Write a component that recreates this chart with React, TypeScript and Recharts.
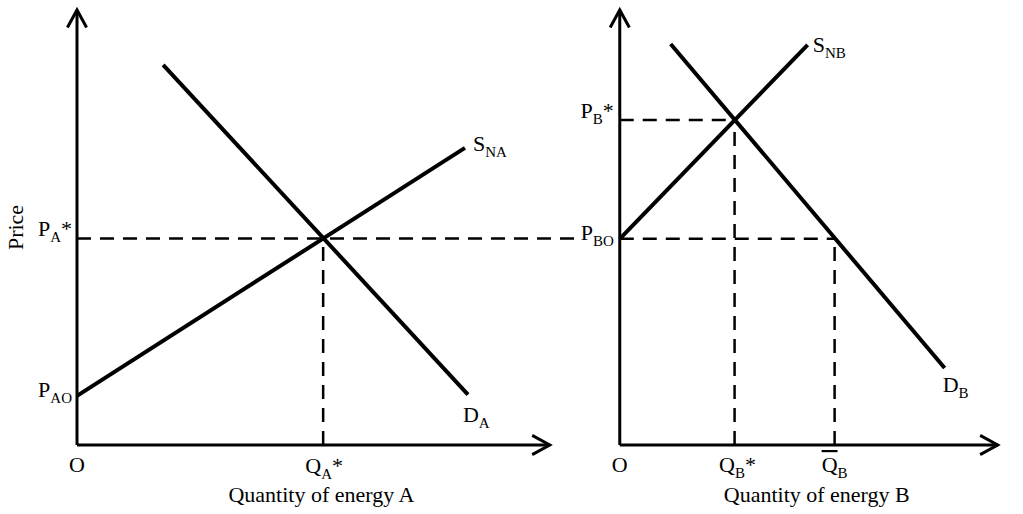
import React from "react";
import { LineChart, Line, XAxis, YAxis, ReferenceLine, ReferenceDot } from "recharts";

// two supply/demand panels drawn on one shared price/quantity plane
const PANEL_B_OFFSET = 12.48;

// energy A
const supplyA = [
  { q: 0, p: 1.13 },
  { q: 8.92, p: 6.83 },
];
const demandA = [
  { q: 1.98, p: 8.74 },
  { q: 8.99, p: 1.16 },
];
const equilibriumA = { q: 5.66, p: 4.75 };
const axisEndA = 10.87;

// energy B
const supplyB = [
  { q: 0, p: 4.74 },
  { q: 4.32, p: 9.2 },
];
const demandB = [
  { q: 1.17, p: 9.22 },
  { q: 7.47, p: 1.77 },
];
const equilibriumB = { q: 2.64, p: 7.47 };
const floorPriceB = 4.74;
const qBarB = 4.94;
const axisEndB = 8.69;

const priceTop = 10;
const dashEndA = 11.47;

const SERIF = "'Liberation Serif', 'Times New Roman', serif";
const INK = "#000";
const DASH = "14 9";

const shift = (pts: { q: number; p: number }[]) =>
  pts.map((d) => ({ q: d.q + PANEL_B_OFFSET, p: d.p }));

type Part = { t: string; sub?: boolean; bar?: boolean };

const MathText = ({
  x, y, parts, anchor = "start",
}: { x: number; y: number; parts: Part[]; anchor?: "start" | "middle" | "end" }) => {
  let level = 0;
  return (
    <text x={x} y={y} textAnchor={anchor} fontFamily={SERIF} fontSize={22} fill={INK}>
      {parts.map((part, i) => {
        const target = part.sub ? 6 : 0;
        const dy = target - level;
        level = target;
        return (
          <tspan
            key={i}
            dy={dy}
            fontSize={part.sub ? 15 : 22}
            style={part.bar ? { textDecoration: "overline" } : undefined}
          >
            {part.t}
          </tspan>
        );
      })}
    </text>
  );
};

const tag = (parts: Part[], dx: number, dy: number, anchor: "start" | "middle" | "end" = "start") => ({
  content: (props: any) => {
    const vb = props.viewBox || {};
    return <MathText x={(vb.x ?? 0) + dx} y={(vb.y ?? 0) + dy} parts={parts} anchor={anchor} />;
  },
});

const ArrowAxis = (props: any) => {
  const { x1, y1, x2, y2 } = props;
  const ang = Math.atan2(y2 - y1, x2 - x1);
  const len = 20;
  const spread = 0.5;
  const ax = x2 + len * Math.cos(ang + Math.PI - spread);
  const ay = y2 + len * Math.sin(ang + Math.PI - spread);
  const bx = x2 + len * Math.cos(ang + Math.PI + spread);
  const by = y2 + len * Math.sin(ang + Math.PI + spread);
  return (
    <g>
      <line x1={x1} y1={y1} x2={x2} y2={y2} stroke={INK} strokeWidth={3} />
      <polyline
        points={`${ax},${ay} ${x2},${y2} ${bx},${by}`}
        fill="none"
        stroke={INK}
        strokeWidth={3}
        strokeLinejoin="miter"
      />
    </g>
  );
};

const dashed = { stroke: INK, strokeWidth: 2.5, strokeDasharray: DASH, ifOverflow: "visible" as const };

export default function App() {
  const sB = shift(supplyB);
  const dB = shift(demandB);
  const oB = PANEL_B_OFFSET;

  return (
    <div style={{ position: "absolute", left: 0, top: 0, width: 1023, height: 514, background: "#fff" }}>
      <LineChart width={1023} height={514} margin={{ top: 10, right: 24, bottom: 69, left: 77 }}>
        <XAxis type="number" dataKey="q" domain={[0, 21.2]} hide allowDataOverflow />
        <YAxis type="number" domain={[0, priceTop]} hide allowDataOverflow />

        {/* panel A axes */}
        <ReferenceLine segment={[{ x: 0, y: 0 }, { x: 0, y: priceTop }]} shape={ArrowAxis} ifOverflow="visible" />
        <ReferenceLine segment={[{ x: 0, y: 0 }, { x: axisEndA, y: 0 }]} shape={ArrowAxis} ifOverflow="visible" />
        {/* panel B axes */}
        <ReferenceLine segment={[{ x: oB, y: 0 }, { x: oB, y: priceTop }]} shape={ArrowAxis} ifOverflow="visible" />
        <ReferenceLine segment={[{ x: oB, y: 0 }, { x: oB + axisEndB, y: 0 }]} shape={ArrowAxis} ifOverflow="visible" />

        {/* guide lines */}
        <ReferenceLine segment={[{ x: 0, y: equilibriumA.p }, { x: dashEndA, y: equilibriumA.p }]} {...dashed} />
        <ReferenceLine segment={[{ x: equilibriumA.q, y: 0 }, { x: equilibriumA.q, y: equilibriumA.p }]} {...dashed} />
        <ReferenceLine segment={[{ x: oB, y: equilibriumB.p }, { x: oB + equilibriumB.q, y: equilibriumB.p }]} {...dashed} />
        <ReferenceLine segment={[{ x: oB + equilibriumB.q, y: 0 }, { x: oB + equilibriumB.q, y: equilibriumB.p }]} {...dashed} />
        <ReferenceLine segment={[{ x: oB, y: floorPriceB }, { x: oB + qBarB, y: floorPriceB }]} {...dashed} />
        <ReferenceLine segment={[{ x: oB + qBarB, y: 0 }, { x: oB + qBarB, y: floorPriceB }]} {...dashed} />

        <Line data={supplyA} dataKey="p" stroke={INK} strokeWidth={4} dot={false} isAnimationActive={false} />
        <Line data={demandA} dataKey="p" stroke={INK} strokeWidth={4} dot={false} isAnimationActive={false} />
        <Line data={sB} dataKey="p" stroke={INK} strokeWidth={4} dot={false} isAnimationActive={false} />
        <Line data={dB} dataKey="p" stroke={INK} strokeWidth={4} dot={false} isAnimationActive={false} />

        {/* labels */}
        <ReferenceDot
          x={0}
          y={priceTop / 2}
          r={0}
          fill="none"
          stroke="none"
          label={{
            content: (props: any) => {
              const vb = props.viewBox || {};
              const x = (vb.x ?? 0) - 62;
              const y = vb.y ?? 0;
              return (
                <text
                  x={x}
                  y={y}
                  transform={`rotate(-90 ${x} ${y})`}
                  textAnchor="middle"
                  dominantBaseline="central"
                  fontFamily={SERIF}
                  fontSize={22}
                  fill={INK}
                >
                  Price
                </text>
              );
            },
          }}
        />
        <ReferenceDot x={0} y={equilibriumA.p} r={0} fill="none" stroke="none"
          label={tag([{ t: "P" }, { t: "A", sub: true }, { t: "*" }], -5, -2, "end")} />
        <ReferenceDot x={0} y={supplyA[0].p} r={0} fill="none" stroke="none"
          label={tag([{ t: "P" }, { t: "AO", sub: true }], -5, 1, "end")} />
        <ReferenceDot x={supplyA[1].q} y={supplyA[1].p} r={0} fill="none" stroke="none"
          label={tag([{ t: "S" }, { t: "NA", sub: true }], 8, 3)} />
        <ReferenceDot x={demandA[1].q} y={demandA[1].p} r={0} fill="none" stroke="none"
          label={tag([{ t: "D" }, { t: "A", sub: true }], -5, 27)} />
        <ReferenceDot x={0} y={0} r={0} fill="none" stroke="none"
          label={tag([{ t: "O" }], 0, 27, "middle")} />
        <ReferenceDot x={equilibriumA.q} y={0} r={0} fill="none" stroke="none"
          label={tag([{ t: "Q" }, { t: "A", sub: true }, { t: "*" }], 1, 28, "middle")} />
        <ReferenceDot x={axisEndA / 2} y={0} r={0} fill="none" stroke="none"
          label={tag([{ t: "Quantity of energy A" }], 8, 57, "middle")} />

        <ReferenceDot x={oB} y={equilibriumB.p} r={0} fill="none" stroke="none"
          label={tag([{ t: "P" }, { t: "B", sub: true }, { t: "*" }], -6, -2, "end")} />
        <ReferenceDot x={oB} y={floorPriceB} r={0} fill="none" stroke="none"
          label={tag([{ t: "P" }, { t: "BO", sub: true }], -6, 1, "end")} />
        <ReferenceDot x={sB[1].q} y={sB[1].p} r={0} fill="none" stroke="none"
          label={tag([{ t: "S" }, { t: "NB", sub: true }], 5, 7)} />
        <ReferenceDot x={dB[1].q} y={dB[1].p} r={0} fill="none" stroke="none"
          label={tag([{ t: "D" }, { t: "B", sub: true }], -2, 24)} />
        <ReferenceDot x={oB} y={0} r={0} fill="none" stroke="none"
          label={tag([{ t: "O" }], 0, 27, "middle")} />
        <ReferenceDot x={oB + equilibriumB.q} y={0} r={0} fill="none" stroke="none"
          label={tag([{ t: "Q" }, { t: "B", sub: true }, { t: "*" }], 3, 27, "middle")} />
        <ReferenceDot x={oB + qBarB} y={0} r={0} fill="none" stroke="none"
          label={tag([{ t: "Q", bar: true }, { t: "B", sub: true }], 0, 27, "middle")} />
        <ReferenceDot x={oB + axisEndB / 2} y={0} r={0} fill="none" stroke="none"
          label={tag([{ t: "Quantity of energy B" }], 8, 57, "middle")} />
      </LineChart>
    </div>
  );
}
